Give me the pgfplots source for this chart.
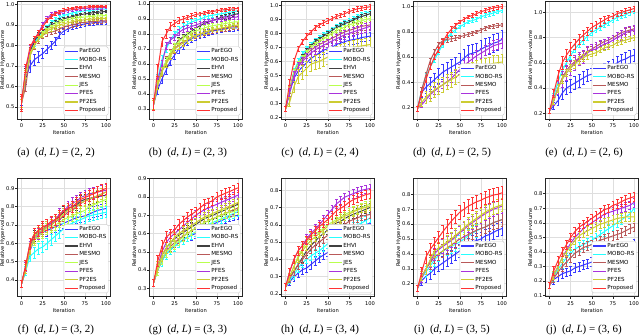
\documentclass[border=0pt]{standalone}
\usepackage{pgfplots}
\pgfplotsset{compat=1.18}
\usepackage{pgfplotstable}
\usepackage{fontspec}
\setmainfont{Liberation Serif}
\newfontfamily\dv{DejaVu Sans}
\definecolor{bP}{RGB}{0,0,255}
\definecolor{bM}{RGB}{0,255,255}
\definecolor{bE}{RGB}{0,0,0}
\definecolor{bS}{RGB}{165,42,42}
\definecolor{bJ}{RGB}{173,255,47}
\definecolor{bF}{RGB}{148,0,211}
\definecolor{bT}{RGB}{191,191,0}
\definecolor{bR}{RGB}{255,0,0}
\colorlet{cP}{bP!78!white}
\colorlet{cM}{bM!85!white}
\colorlet{cE}{bE!75!white}
\colorlet{cS}{bS!78!white}
\colorlet{cJ}{bJ!85!white}
\colorlet{cF}{bF!80!white}
\colorlet{cT}{bT!80!white}
\colorlet{cR}{bR!80!white}
\newcommand{\sz}{\dv\fontsize{5.2}{6}\selectfont}
\newcommand{\lz}{\dv\fontsize{5.6}{6.5}\selectfont}

% ---------------- data (rows = series, columns = iteration) ----------------
\pgfplotstableread{
s 0 5 10 15 20 25 30 35 40 45 50 55 60 65 70 75 80 85 90 95 100
p .53 .64 .70 .73 .745 .76 .78 .80 .82 .85 .87 .88 .89 .895 .90 .905 .908 .91 .912 .914 .915
pe .02 .03 .03 .025 .025 .025 .02 .02 .02 .015 .015 .012 .012 .01 .01 .01 .01 .01 .01 .01 .01
m .52 .66 .76 .81 .84 .87 .89 .91 .925 .935 .945 .952 .958 .962 .965 .968 .97 .972 .974 .976 .977
eh .52 .67 .77 .82 .85 .87 .885 .90 .91 .92 .93 .935 .94 .945 .95 .953 .956 .959 .961 .963 .965
ms .52 .60 .75 .80 .83 .85 .86 .865 .87 .88 .89 .895 .90 .905 .91 .912 .914 .916 .918 .919 .92
mse .03 .025 .02 .02 .02 .015 .015 .012 .012 .01 .01 .01 .01 .01 .01 .01 .01 .01 .01 .01 .01
j .52 .66 .76 .80 .83 .86 .875 .89 .90 .91 .92 .925 .93 .933 .936 .938 .94 .942 .943 .944 .945
pf .52 .68 .78 .83 .86 .90 .93 .95 .955 .96 .965 .97 .973 .976 .978 .98 .981 .982 .983 .984 .985
t .52 .66 .75 .80 .83 .85 .87 .88 .89 .90 .905 .91 .915 .92 .922 .925 .927 .929 .93 .931 .932
r .52 .69 .79 .83 .86 .89 .92 .94 .955 .965 .972 .977 .98 .983 .985 .987 .988 .989 .99 .99 .99
re .04 .02 .015 .015 .012 .01 .01 .01 .008 .008 .007 .007 .006 .006 .006 .005 .005 .005 .005 .005 .005
er .02 .02 .02 .015 .012 .01 .01 .01 .01 .01 .008 .008 .008 .007 .007 .007 .006 .006 .006 .006 .006
}\rawA
\pgfplotstableread{
s 0 5 10 15 20 25 30 35 40 45 50 55 60 65 70 75 80 85 90 95 100
p .33 .43 .50 .56 .62 .66 .70 .72 .75 .77 .78 .79 .80 .81 .82 .825 .83 .835 .838 .84 .842
pe .03 .03 .03 .03 .03 .03 .03 .025 .025 .025 .02 .02 .02 .02 .02 .02 .02 .02 .02 .02 .02
m .33 .50 .63 .70 .76 .80 .83 .85 .865 .88 .89 .90 .91 .92 .925 .93 .935 .94 .945 .95 .955
eh .33 .47 .56 .61 .67 .72 .76 .78 .80 .82 .84 .855 .87 .88 .89 .90 .91 .915 .92 .93 .935
ms .33 .46 .55 .62 .67 .70 .73 .75 .76 .78 .79 .80 .81 .82 .825 .83 .835 .84 .845 .85 .85
j .33 .46 .55 .62 .67 .72 .75 .77 .79 .81 .82 .83 .84 .85 .855 .86 .865 .87 .875 .88 .88
pf .33 .49 .60 .72 .76 .78 .81 .83 .84 .85 .86 .87 .88 .885 .89 .895 .90 .905 .91 .91 .915
t .33 .46 .55 .60 .65 .70 .72 .74 .76 .78 .79 .80 .81 .82 .83 .835 .84 .845 .85 .855 .86
r .33 .56 .75 .80 .85 .87 .89 .90 .91 .92 .93 .935 .94 .945 .95 .955 .96 .962 .965 .968 .97
re .04 .04 .03 .03 .025 .02 .02 .02 .015 .015 .015 .012 .012 .01 .01 .01 .01 .01 .01 .01 .01
er .03 .03 .025 .025 .02 .02 .02 .02 .02 .02 .015 .015 .015 .015 .015 .015 .015 .015 .015 .015 .015
}\rawB
\pgfplotstableread{
s 0 5 10 15 20 25 30 35 40 45 50 55 60 65 70 75 80 85 90 95 100
p .26 .38 .48 .53 .56 .59 .62 .64 .66 .68 .69 .70 .72 .73 .74 .75 .755 .76 .77 .775 .78
pe .02 .03 .03 .03 .03 .03 .03 .03 .03 .03 .03 .03 .03 .03 .03 .03 .03 .03 .03 .03 .03
m .26 .40 .53 .60 .65 .69 .72 .75 .77 .79 .81 .83 .85 .865 .88 .89 .905 .92 .935 .945 .955
eh .26 .40 .52 .58 .63 .67 .71 .74 .76 .78 .80 .82 .84 .855 .87 .88 .895 .91 .92 .93 .94
ms .26 .40 .50 .57 .61 .65 .68 .70 .72 .735 .75 .765 .78 .795 .81 .82 .83 .84 .85 .855 .86
j .26 .40 .52 .58 .62 .66 .70 .72 .74 .76 .78 .80 .82 .83 .845 .86 .87 .88 .89 .90 .905
pf .26 .38 .50 .56 .60 .63 .66 .68 .70 .715 .73 .745 .76 .775 .79 .80 .81 .82 .83 .84 .85
t .26 .31 .42 .49 .52 .55 .58 .59 .60 .615 .63 .645 .66 .67 .68 .69 .70 .705 .71 .715 .72
te .02 .03 .04 .05 .05 .05 .05 .05 .05 .05 .05 .05 .05 .05 .05 .05 .05 .05 .05 .05 .05
r .26 .45 .60 .69 .74 .78 .81 .84 .86 .875 .89 .905 .92 .93 .94 .955 .965 .975 .98 .985 .99
er .02 .02 .02 .02 .02 .02 .015 .015 .015 .015 .015 .015 .015 .015 .015 .015 .015 .015 .015 .015 .015
}\rawC
\pgfplotstableread{
s 0 5 10 15 20 25 30 35 40 45 50 55 60 65 70 75 80 85 90 95 100
p .19 .32 .36 .39 .42 .45 .48 .50 .52 .54 .56 .59 .62 .63 .64 .66 .68 .69 .71 .72 .74
pe .02 .04 .05 .05 .05 .06 .06 .06 .06 .06 .07 .07 .07 .07 .07 .07 .07 .07 .07 .07 .07
m .19 .34 .45 .52 .58 .64 .70 .75 .79 .815 .84 .86 .88 .89 .90 .92 .93 .94 .95 .96 .97
ms .19 .34 .46 .57 .64 .70 .73 .74 .745 .75 .76 .77 .78 .79 .80 .815 .83 .84 .845 .85 .855
pf .19 .22 .26 .30 .33 .355 .38 .405 .43 .465 .50 .53 .56 .585 .61 .63 .65 .67 .69 .70 .71
pfe .02 .02 .03 .03 .03 .03 .03 .03 .03 .03 .04 .04 .04 .04 .04 .04 .04 .04 .04 .04 .04
t .19 .24 .28 .31 .34 .36 .38 .40 .42 .44 .46 .475 .49 .50 .51 .52 .53 .54 .55 .555 .56
te .02 .03 .05 .06 .06 .06 .06 .06 .06 .06 .06 .06 .06 .06 .06 .06 .06 .06 .06 .06 .06
r .19 .31 .42 .52 .60 .66 .72 .78 .82 .85 .88 .90 .92 .93 .945 .96 .97 .98 .99 .995 1.0
er .02 .02 .02 .02 .02 .02 .02 .02 .02 .02 .015 .015 .015 .015 .015 .015 .015 .015 .015 .015 .015
}\rawD
\pgfplotstableread{
s 0 5 10 15 20 25 30 35 40 45 50 55 60 65 70 75 80 85 90 95 100
p .22 .26 .30 .36 .40 .42 .44 .46 .48 .50 .51 .52 .54 .55 .56 .58 .60 .62 .63 .65 .66
pe .02 .03 .04 .05 .05 .05 .05 .05 .05 .05 .05 .05 .05 .05 .05 .05 .05 .05 .05 .05 .05
m .22 .33 .45 .54 .60 .66 .71 .75 .78 .81 .84 .86 .88 .90 .92 .94 .96 .97 .98 1.0 1.01
ms .22 .30 .40 .48 .54 .58 .61 .64 .66 .69 .71 .73 .75 .77 .78 .80 .82 .84 .85 .86 .87
pf .22 .30 .40 .47 .52 .56 .60 .63 .65 .68 .70 .71 .73 .75 .76 .78 .80 .82 .84 .85 .86
pfe .02 .04 .05 .06 .06 .06 .06 .05 .05 .05 .05 .05 .05 .04 .04 .04 .04 .04 .04 .04 .04
t .22 .30 .40 .47 .52 .56 .59 .62 .64 .66 .67 .68 .70 .72 .73 .74 .76 .77 .78 .79 .80
r .22 .36 .50 .60 .66 .71 .75 .79 .82 .85 .88 .90 .92 .94 .96 .97 .99 1.0 1.01 1.02 1.03
re .02 .03 .04 .05 .05 .05 .04 .04 .04 .03 .03 .03 .03 .03 .02 .02 .02 .02 .02 .02 .02
er .02 .03 .03 .03 .03 .03 .03 .03 .03 .03 .02 .02 .02 .02 .02 .02 .02 .02 .02 .02 .02
}\rawE
\pgfplotstableread{
s 0 5 10 15 20 25 30 35 40 45 50 55 60 65 70 75 80 85 90 95 100
p .38 .45 .56 .62 .64 .66 .67 .68 .69 .70 .71 .72 .73 .74 .745 .75 .76 .77 .78 .785 .79
m .38 .45 .53 .55 .57 .58 .60 .62 .64 .66 .68 .70 .71 .72 .73 .74 .75 .755 .76 .765 .77
eh .38 .47 .58 .64 .66 .67 .69 .70 .72 .75 .77 .79 .80 .81 .83 .84 .845 .85 .855 .86 .86
ms .38 .48 .60 .65 .67 .68 .70 .71 .72 .73 .75 .77 .78 .80 .82 .83 .84 .85 .86 .87 .88
j .38 .46 .57 .62 .64 .66 .68 .69 .70 .715 .73 .74 .75 .76 .77 .78 .80 .81 .82 .83 .84
pf .38 .47 .58 .63 .65 .67 .69 .71 .73 .76 .78 .80 .82 .83 .85 .86 .87 .875 .88 .885 .89
t .38 .46 .57 .63 .66 .67 .69 .70 .72 .74 .76 .78 .79 .80 .82 .83 .84 .85 .86 .87 .88
r .38 .48 .60 .65 .67 .69 .70 .72 .73 .75 .78 .79 .80 .82 .84 .85 .86 .87 .88 .89 .90
er .02 .025 .03 .03 .03 .03 .03 .03 .03 .03 .03 .03 .03 .03 .03 .03 .03 .03 .03 .03 .03
}\rawF
\pgfplotstableread{
s 0 5 10 15 20 25 30 35 40 45 50 55 60 65 70 75 80 85 90 95 100
p .33 .40 .45 .49 .51 .53 .55 .565 .58 .59 .60 .615 .63 .64 .65 .66 .67 .68 .69 .695 .70
m .33 .40 .45 .49 .51 .53 .55 .565 .58 .595 .61 .625 .64 .65 .66 .67 .68 .69 .70 .71 .72
eh .33 .42 .48 .52 .55 .57 .59 .605 .62 .635 .65 .665 .68 .69 .70 .71 .72 .73 .74 .75 .76
ms .33 .40 .46 .50 .53 .55 .57 .585 .60 .615 .63 .645 .66 .67 .68 .69 .70 .71 .72 .73 .74
j .33 .40 .46 .50 .52 .54 .56 .58 .60 .615 .63 .645 .66 .67 .68 .69 .70 .71 .715 .72 .73
pf .33 .42 .50 .55 .58 .60 .62 .64 .66 .68 .70 .715 .73 .74 .75 .76 .77 .78 .79 .80 .81
t .33 .42 .48 .52 .55 .58 .60 .615 .63 .645 .66 .675 .69 .70 .71 .72 .73 .74 .75 .76 .77
r .33 .45 .53 .58 .60 .62 .65 .67 .69 .705 .72 .74 .76 .77 .78 .80 .81 .82 .83 .84 .85
er .02 .03 .03 .03 .025 .025 .025 .025 .025 .025 .025 .025 .025 .025 .025 .025 .025 .025 .025 .025 .025
}\rawG
\pgfplotstableread{
s 0 5 10 15 20 25 30 35 40 45 50 55 60 65 70 75 80 85 90 95 100
p .24 .27 .30 .32 .34 .35 .37 .39 .41 .425 .44 .46 .48 .49 .51 .53 .545 .56 .58 .60 .61
m .24 .28 .31 .35 .38 .40 .42 .435 .45 .47 .49 .51 .53 .545 .56 .58 .59 .60 .61 .625 .64
eh .24 .30 .33 .37 .41 .45 .48 .505 .53 .55 .57 .59 .61 .62 .635 .65 .66 .67 .68 .69 .70
ms .24 .29 .33 .37 .40 .43 .46 .48 .50 .52 .54 .56 .58 .59 .60 .62 .63 .64 .65 .655 .66
j .24 .30 .36 .42 .46 .50 .53 .545 .56 .58 .60 .615 .63 .645 .66 .67 .68 .69 .70 .71 .72
pf .24 .33 .40 .45 .48 .52 .55 .575 .60 .63 .66 .69 .72 .74 .76 .77 .78 .79 .80 .805 .81
t .24 .30 .36 .41 .45 .48 .51 .53 .55 .57 .59 .605 .62 .635 .65 .66 .675 .685 .695 .70 .71
r .24 .33 .40 .45 .48 .51 .54 .565 .59 .61 .63 .655 .68 .695 .71 .73 .745 .755 .765 .775 .78
er .02 .02 .025 .025 .025 .025 .025 .025 .025 .025 .025 .025 .025 .025 .025 .025 .025 .025 .025 .025 .025
}\rawH
\pgfplotstableread{
s 0 5 10 15 20 25 30 35 40 45 50 55 60 65 70 75 80 85 90 95 100
p .17 .22 .25 .27 .30 .32 .34 .36 .38 .40 .42 .44 .46 .48 .49 .50 .52 .53 .545 .56 .57
m .17 .24 .28 .32 .36 .39 .42 .435 .45 .465 .48 .50 .52 .54 .555 .57 .58 .595 .61 .62 .63
ms .17 .25 .30 .34 .38 .40 .42 .44 .46 .48 .50 .515 .53 .545 .56 .57 .58 .595 .61 .62 .63
pf .17 .24 .30 .35 .40 .43 .45 .47 .49 .515 .54 .565 .59 .61 .63 .65 .67 .685 .70 .71 .72
t .17 .25 .30 .36 .42 .44 .46 .48 .50 .525 .55 .575 .60 .62 .64 .66 .68 .695 .71 .72 .73
r .17 .28 .38 .43 .47 .51 .55 .585 .62 .65 .68 .70 .72 .735 .75 .76 .775 .785 .795 .80 .81
er .02 .03 .04 .04 .04 .04 .045 .045 .045 .045 .045 .045 .045 .045 .045 .045 .045 .045 .045 .045 .045
}\rawI
\pgfplotstableread{
s 0 5 10 15 20 25 30 35 40 45 50 55 60 65 70 75 80 85 90 95 100
p .17 .21 .23 .25 .26 .27 .29 .30 .31 .32 .33 .34 .35 .36 .37 .38 .39 .40 .42 .44 .46
m .17 .23 .28 .32 .36 .39 .42 .435 .45 .465 .48 .50 .52 .54 .56 .58 .60 .62 .64 .66 .70
ms .17 .22 .26 .30 .33 .36 .39 .41 .43 .44 .45 .465 .48 .49 .50 .51 .52 .53 .545 .56 .57
pf .17 .24 .30 .36 .41 .46 .50 .53 .56 .58 .60 .62 .64 .66 .67 .68 .69 .70 .71 .72 .74
t .17 .24 .30 .36 .40 .44 .48 .51 .53 .545 .56 .575 .59 .60 .61 .62 .63 .635 .64 .64 .64
r .17 .27 .34 .40 .45 .50 .54 .57 .59 .61 .63 .65 .67 .69 .70 .72 .73 .745 .76 .77 .78
er .02 .03 .03 .03 .03 .03 .03 .03 .03 .03 .03 .03 .03 .03 .03 .03 .03 .03 .03 .03 .03
}\rawJ
\pgfplotstabletranspose[colnames from=s]\tA{\rawA}
\pgfplotstabletranspose[colnames from=s]\tB{\rawB}
\pgfplotstabletranspose[colnames from=s]\tC{\rawC}
\pgfplotstabletranspose[colnames from=s]\tD{\rawD}
\pgfplotstabletranspose[colnames from=s]\tE{\rawE}
\pgfplotstabletranspose[colnames from=s]\tF{\rawF}
\pgfplotstabletranspose[colnames from=s]\tG{\rawG}
\pgfplotstabletranspose[colnames from=s]\tH{\rawH}
\pgfplotstabletranspose[colnames from=s]\tI{\rawI}
\pgfplotstabletranspose[colnames from=s]\tJ{\rawJ}

\pgfplotsset{
  error bars/draw error bar/.code 2 args={%
    \draw[line width=0.6bp] #1 -- #2 ++(-1.4bp,0pt) -- ++(2.8bp,0pt);},
  eb/.style={line width=1bp, mark=none,
    error bars/y dir=both, error bars/y explicit},
  sP/.style={eb, color=cP}, sM/.style={eb, color=cM}, sE/.style={eb, color=cE},
  sS/.style={eb, color=cS}, sJ/.style={eb, color=cJ}, sF/.style={eb, color=cF},
  sT/.style={eb, color=cT}, sR/.style={eb, color=cR},
  hv/.style={
    scale only axis, width=93bp,
    xmin=-5, xmax=105, xtick={0,25,50,75,100},
    grid=major, major grid style={black!13, line width=0.5bp},
    axis line style={black!85, line width=0.5bp},
    tick align=outside, tick pos=left, major tick length=2bp,
    every tick/.style={black!85, line width=0.5bp},
    tick label style={font=\sz},
    /pgf/number format/assume math mode=true,
    yticklabel style={inner sep=0.8bp, /pgf/number format/.cd, fixed, fixed zerofill, precision=1},
    xticklabel style={yshift=0.5bp},
    xlabel={Iteration}, ylabel={Relative Hyper-volume},
    xlabel style={font=\sz, yshift=4bp},
    every axis y label/.style={at={(rel axis cs:-0.158,0.5)}, rotate=90,
      anchor=center, inner sep=0pt, font=\sz},
    legend style={at={(0.98,0.03)}, anchor=south east, font=\lz,
      draw=black!20, rounded corners=1.5bp, fill=white,
      inner sep=1bp, row sep=1bp,
      nodes={inner sep=0.9bp}, cells={anchor=west}},
    legend image code/.code={\draw[#1, line width=1.1bp] (0bp,0bp) -- (12.5bp,0bp);},
  },
}
\newcommand{\eight}[9]{%
 \addplot[sP] table[x=colnames,y=p,y error=#2]{#1}; \addlegendentry{ParEGO}
 \addplot[sM] table[x=colnames,y=m,y error=#3]{#1}; \addlegendentry{MOBO-RS}
 \addplot[sE] table[x=colnames,y=eh,y error=#4]{#1}; \addlegendentry{EHVI}
 \addplot[sS] table[x=colnames,y=ms,y error=#5]{#1}; \addlegendentry{MESMO}
 \addplot[sJ] table[x=colnames,y=j,y error=#6]{#1}; \addlegendentry{JES}
 \addplot[sF] table[x=colnames,y=pf,y error=#7]{#1}; \addlegendentry{PFES}
 \addplot[sT] table[x=colnames,y=t,y error=#8]{#1}; \addlegendentry{PF2ES}
 \addplot[sR] table[x=colnames,y=r,y error=#9]{#1}; \addlegendentry{Proposed}
}
\newcommand{\six}[7]{%
 \addplot[sP] table[x=colnames,y=p,y error=#2]{#1}; \addlegendentry{ParEGO}
 \addplot[sM] table[x=colnames,y=m,y error=#3]{#1}; \addlegendentry{MOBO-RS}
 \addplot[sS] table[x=colnames,y=ms,y error=#4]{#1}; \addlegendentry{MESMO}
 \addplot[sF] table[x=colnames,y=pf,y error=#5]{#1}; \addlegendentry{PFES}
 \addplot[sT] table[x=colnames,y=t,y error=#6]{#1}; \addlegendentry{PF2ES}
 \addplot[sR] table[x=colnames,y=r,y error=#7]{#1}; \addlegendentry{Proposed}
}
\newcommand{\capt}[3]{\node[font=\fontsize{11}{12}\selectfont, inner sep=0pt] at (#1bp,#2bp) {#3};}

\begin{document}
\begin{tikzpicture}
\path[use as bounding box] (0,0) rectangle (640bp,336bp);
% ---------- top row ----------
\begin{axis}[hv, at={(17.3bp,217bp)}, anchor=south west, height=118bp,
  ymin=0.442, ymax=1.016, ytick={0.5,0.6,0.7,0.8,0.9,1.0}]
\eight{\tA}{pe}{er}{er}{mse}{er}{er}{er}{re}
\end{axis}
\begin{axis}[hv, at={(149.3bp,217bp)}, anchor=south west, height=118bp,
  ymin=0.233, ymax=1.02, ytick={0.3,0.4,0.5,0.6,0.7,0.8,0.9,1.0}]
\eight{\tB}{pe}{er}{er}{pe}{er}{er}{er}{re}
\end{axis}
\begin{axis}[hv, at={(281.3bp,217bp)}, anchor=south west, height=118bp,
  ymin=0.188, ymax=1.031, ytick={0.2,0.3,0.4,0.5,0.6,0.7,0.8,0.9,1.0}]
\eight{\tC}{pe}{er}{er}{pe}{er}{pe}{te}{er}
\end{axis}
\begin{axis}[hv, at={(413.3bp,217bp)}, anchor=south west, height=118bp,
  ymin=0.107, ymax=1.045, ytick={0.2,0.4,0.6,0.8,1.0}]
\six{\tD}{pe}{er}{er}{pfe}{te}{er}
\end{axis}
\begin{axis}[hv, at={(545.3bp,217bp)}, anchor=south west, height=118bp,
  ymin=0.155, ymax=1.09, ytick={0.2,0.4,0.6,0.8,1.0}]
\six{\tE}{pe}{er}{er}{pfe}{er}{re}
\end{axis}
% ---------- bottom row ----------
\begin{axis}[hv, at={(17.3bp,39.3bp)}, anchor=south west, height=118.4bp,
  ymin=0.309, ymax=0.955, ytick={0.4,0.5,0.6,0.7,0.8,0.9}]
\eight{\tF}{er}{er}{er}{er}{er}{er}{er}{er}
\end{axis}
\begin{axis}[hv, at={(149.3bp,39.3bp)}, anchor=south west, height=118.4bp,
  ymin=0.254, ymax=0.902, ytick={0.3,0.4,0.5,0.6,0.7,0.8,0.9}]
\eight{\tG}{er}{er}{er}{er}{er}{er}{er}{er}
\end{axis}
\begin{axis}[hv, at={(281.3bp,39.3bp)}, anchor=south west, height=118.4bp,
  ymin=0.184, ymax=0.869, ytick={0.2,0.3,0.4,0.5,0.6,0.7,0.8}]
\eight{\tH}{er}{er}{er}{er}{er}{er}{er}{er}
\end{axis}
\begin{axis}[hv, at={(413.3bp,39.3bp)}, anchor=south west, height=118.4bp,
  ymin=0.113, ymax=0.907, ytick={0.2,0.3,0.4,0.5,0.6,0.7,0.8}]
\six{\tI}{er}{er}{er}{er}{er}{er}
\end{axis}
\begin{axis}[hv, at={(545.3bp,39.3bp)}, anchor=south west, height=118.4bp,
  ymin=0.092, ymax=0.906, ytick={0.1,0.2,0.3,0.4,0.5,0.6,0.7,0.8}]
\six{\tJ}{er}{er}{er}{er}{er}{er}
\end{axis}
% ---------- captions ----------
\capt{56}{183.3}{(a)\enspace(\textit{d}, \textit{L}) = (2, 2)}
\capt{188}{183.3}{(b)\enspace(\textit{d}, \textit{L}) = (2, 3)}
\capt{320}{183.3}{(c)\enspace(\textit{d}, \textit{L}) = (2, 4)}
\capt{452}{183.3}{(d)\enspace(\textit{d}, \textit{L}) = (2, 5)}
\capt{584}{183.3}{(e)\enspace(\textit{d}, \textit{L}) = (2, 6)}
\capt{56}{6.5}{(f)\enspace(\textit{d}, \textit{L}) = (3, 2)}
\capt{188}{6.5}{(g)\enspace(\textit{d}, \textit{L}) = (3, 3)}
\capt{320}{6.5}{(h)\enspace(\textit{d}, \textit{L}) = (3, 4)}
\capt{452}{6.5}{(i)\enspace(\textit{d}, \textit{L}) = (3, 5)}
\capt{584}{6.5}{(j)\enspace(\textit{d}, \textit{L}) = (3, 6)}
\end{tikzpicture}
\end{document}
